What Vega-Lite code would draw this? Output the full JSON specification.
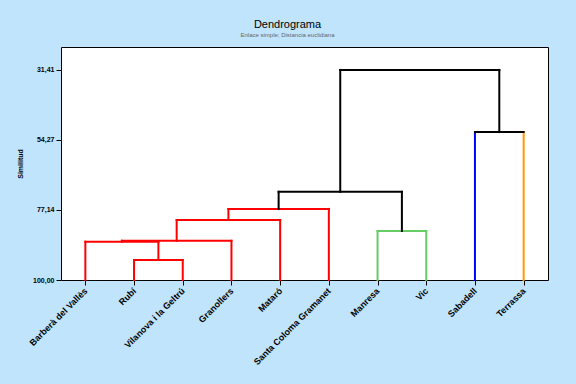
{
  "$schema": "https://vega.github.io/schema/vega-lite/v6.json",
  "width": 487,
  "height": 233,
  "autosize": "none",
  "padding": {"left": 61, "top": 47, "right": 28, "bottom": 104},
  "background": "#C0E4FC",
  "title": {
    "text": "Dendrograma",
    "subtitle": "Enlace simple; Distancia euclidiana",
    "anchor": "middle",
    "dx": -17,
    "offset": 9,
    "font": "Liberation Sans",
    "fontSize": 11,
    "fontWeight": "normal",
    "color": "#000000",
    "subtitleFont": "Liberation Sans",
    "subtitleFontSize": 6,
    "subtitleColor": "#666666",
    "subtitlePadding": 2
  },
  "config": {
    "view": {"stroke": "#000000", "strokeWidth": 1, "fill": "#FFFFFF"},
    "axis": {
      "labelFont": "Liberation Sans",
      "labelFontWeight": "bold",
      "labelColor": "#000000",
      "titleFont": "Liberation Sans",
      "titleFontWeight": "bold",
      "titleColor": "#000000",
      "tickColor": "#000000",
      "grid": false,
      "domain": false
    }
  },
  "data": {
    "values": [
      {"x": 1, "x2": 1, "y": 100, "y2": 93.47, "grupo": "g1"},
      {"x": 2, "x2": 2, "y": 100, "y2": 93.47, "grupo": "g1"},
      {"x": 1, "x2": 2, "y": 93.47, "y2": 93.47, "grupo": "g1"},
      {"x": 1.5, "x2": 1.5, "y": 93.47, "y2": 87.5, "grupo": "g1"},
      {"x": 0, "x2": 0, "y": 100, "y2": 87.5, "grupo": "g1"},
      {"x": 0, "x2": 1.5, "y": 87.5, "y2": 87.5, "grupo": "g1"},
      {"x": 0.75, "x2": 0.75, "y": 87.5, "y2": 87.2, "grupo": "g1"},
      {"x": 3, "x2": 3, "y": 100, "y2": 87.2, "grupo": "g1"},
      {"x": 0.75, "x2": 3, "y": 87.2, "y2": 87.2, "grupo": "g1"},
      {"x": 1.875, "x2": 1.875, "y": 87.2, "y2": 80.4, "grupo": "g1"},
      {"x": 4, "x2": 4, "y": 100, "y2": 80.4, "grupo": "g1"},
      {"x": 1.875, "x2": 4, "y": 80.4, "y2": 80.4, "grupo": "g1"},
      {"x": 2.9375, "x2": 2.9375, "y": 80.4, "y2": 76.8, "grupo": "g1"},
      {"x": 5, "x2": 5, "y": 100, "y2": 76.8, "grupo": "g1"},
      {"x": 2.9375, "x2": 5, "y": 76.8, "y2": 76.8, "grupo": "g1"},
      {"x": 3.96875, "x2": 3.96875, "y": 76.8, "y2": 71.2, "grupo": "enlace"},
      {"x": 6, "x2": 6, "y": 100, "y2": 84.0, "grupo": "g2"},
      {"x": 7, "x2": 7, "y": 100, "y2": 84.0, "grupo": "g2"},
      {"x": 6, "x2": 7, "y": 84.0, "y2": 84.0, "grupo": "g2"},
      {"x": 6.5, "x2": 6.5, "y": 84.0, "y2": 71.2, "grupo": "enlace"},
      {"x": 3.96875, "x2": 6.5, "y": 71.2, "y2": 71.2, "grupo": "enlace"},
      {"x": 5.234, "x2": 5.234, "y": 71.2, "y2": 31.41, "grupo": "enlace"},
      {"x": 8, "x2": 8, "y": 100, "y2": 51.7, "grupo": "g3"},
      {"x": 9, "x2": 9, "y": 100, "y2": 51.7, "grupo": "g4"},
      {"x": 8, "x2": 9, "y": 51.7, "y2": 51.7, "grupo": "enlace"},
      {"x": 8.5, "x2": 8.5, "y": 51.7, "y2": 31.41, "grupo": "enlace"},
      {"x": 5.234, "x2": 8.5, "y": 31.41, "y2": 31.41, "grupo": "enlace"}
    ]
  },
  "mark": {"type": "rule", "strokeWidth": 2, "strokeCap": "square"},
  "encoding": {
    "x": {
      "field": "x",
      "type": "quantitative",
      "scale": {"domain": [-0.5, 9.5], "nice": false, "zero": false},
      "axis": {
        "title": null,
        "values": [0, 1, 2, 3, 4, 5, 6, 7, 8, 9],
        "labelExpr": "['Barberà del Vallès','Rubí','Vilanova i la Geltrú','Granollers','Mataró','Santa Coloma Gramanet','Manresa','Vic','Sabadell','Terrassa'][datum.value]",
        "labelAngle": -45,
        "labelAlign": "right",
        "labelBaseline": "middle",
        "labelFontSize": 9,
        "labelPadding": 4,
        "tickSize": 5,
        "labelOverlap": false,
        "labelBound": false,
        "labelFlush": false
      }
    },
    "x2": {"field": "x2"},
    "y": {
      "field": "y",
      "type": "quantitative",
      "scale": {"domain": [100, 23.92], "nice": false, "zero": false},
      "axis": {
        "title": "Similitud",
        "values": [31.41, 54.27, 77.14, 100],
        "labelExpr": "replace(format(datum.value, '.2f'), '.', ',')",
        "labelFontSize": 7,
        "labelPadding": 2,
        "tickSize": 5,
        "titleFontSize": 7,
        "titlePadding": 9,
        "labelOverlap": false,
        "labelBound": false,
        "labelFlush": false
      }
    },
    "y2": {"field": "y2"},
    "color": {
      "field": "grupo",
      "type": "nominal",
      "scale": {
        "domain": ["g1", "g2", "g3", "g4", "enlace"],
        "range": ["#FF0000", "#66CC66", "#0000FF", "#FF9900", "#000000"]
      },
      "legend": null
    }
  }
}
